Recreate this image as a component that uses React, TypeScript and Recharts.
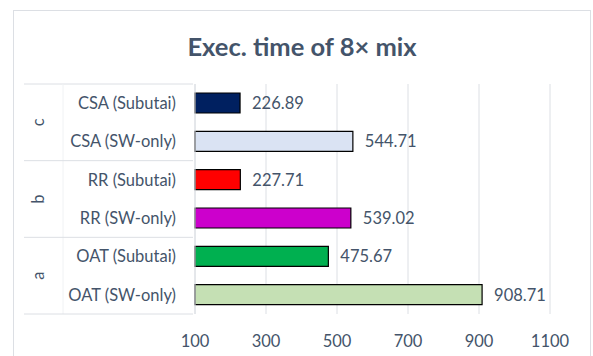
import React from 'react';
import { BarChart, Bar, XAxis, YAxis, CartesianGrid, Cell, LabelList } from 'recharts';

const categories = [
  'CSA (Subutai)',
  'CSA (SW-only)',
  'RR (Subutai)',
  'RR (SW-only)',
  'OAT (Subutai)',
  'OAT (SW-only)',
];
const groups = ['c', 'c', 'b', 'b', 'a', 'a'];
const times = [226.89, 544.71, 227.71, 539.02, 475.67, 908.71];
const barColors = ['#002060', '#DAE3F3', '#FF0000', '#CC00CC', '#00B050', '#C5E0B4'];
const xTicks = [100, 300, 500, 700, 900, 1100];

const data = categories.map((name, i) => ({ name, group: groups[i], time: times[i] }));

const TEXT = '#44546A';
const LINE = '#DCDFE4';
const FONT = 'Lato, "Open Sans", sans-serif';
const FS = 16.5;

// rows are 230px tall in total, 6 of them
const ROW_H = 230 / 6;
const LEFT_EDGE = 24;
const GROUP_X = 38;
const SPLIT_X = 63;

const CategoryTick = (props: any) => {
  const { x, y, payload, index } = props;
  const isFirst = index % 2 === 0;
  return (
    <g>
      <text
        x={x - 17}
        y={y}
        dy="0.35em"
        textAnchor="end"
        fill={TEXT}
        fontSize={FS}
        fontFamily={FONT}
      >
        {payload.value}
      </text>
      {isFirst && (
        <>
          <line x1={LEFT_EDGE} x2={x} y1={y - ROW_H / 2} y2={y - ROW_H / 2} stroke={LINE} />
          <text
            x={GROUP_X}
            y={y + ROW_H / 2}
            dy="0.35em"
            textAnchor="middle"
            fill={TEXT}
            fontSize={FS}
            fontFamily={FONT}
            transform={`rotate(-90 ${GROUP_X} ${y + ROW_H / 2})`}
          >
            {groups[index]}
          </text>
        </>
      )}
      {index === 0 && (
        <line x1={SPLIT_X} x2={SPLIT_X} y1={y - ROW_H / 2} y2={y - ROW_H / 2 + ROW_H * 6} stroke="#F0F2F4" />
      )}
      {index === categories.length - 1 && (
        <line x1={LEFT_EDGE} x2={x} y1={y + ROW_H / 2} y2={y + ROW_H / 2} stroke={LINE} />
      )}
    </g>
  );
};

export default function App() {
  return (
    <div style={{ position: 'absolute', left: 0, top: 0, width: 593, height: 356, background: '#fff', overflow: 'hidden' }}>
      <div
        style={{
          position: 'absolute',
          left: 13,
          top: 10,
          width: 576,
          height: 360,
          border: `1px solid ${LINE}`,
        }}
      />
      <div
        style={{
          position: 'absolute',
          left: 13,
          top: 31,
          width: 578,
          textAlign: 'center',
          fontFamily: FONT,
          fontWeight: 700,
          fontSize: 25.5,
          lineHeight: '30px',
          color: TEXT,
        }}
      >
        Exec. time of 8× mix
      </div>
      <div style={{ position: 'absolute', left: 0, top: 0 }}>
        <BarChart
          width={593}
          height={356}
          data={data}
          layout="vertical"
          margin={{ top: 84, right: 43, bottom: 12, left: 25 }}
          barSize={20}
        >
          <CartesianGrid horizontal={false} stroke={LINE} />
          <XAxis
            type="number"
            domain={[100, 1100]}
            ticks={xTicks}
            height={30}
            axisLine={false}
            tickLine={false}
            tickMargin={15}
            tick={{ fill: TEXT, fontSize: FS, fontFamily: FONT }}
          />
          <YAxis
            type="category"
            dataKey="name"
            width={170}
            tickLine={false}
            tickSize={0}
            axisLine={{ stroke: LINE }}
            tick={<CategoryTick />}
          />
          <Bar dataKey="time" isAnimationActive={false} stroke="#000" strokeWidth={1.2}>
            {data.map((d, i) => (
              <Cell key={d.name} fill={barColors[i]} />
            ))}
            <LabelList
              dataKey="time"
              position="right"
              offset={12}
              fill={TEXT}
              fontSize={FS}
              fontFamily={FONT}
              formatter={(v: any) => Number(v).toFixed(2)}
            />
          </Bar>
        </BarChart>
      </div>
    </div>
  );
}
